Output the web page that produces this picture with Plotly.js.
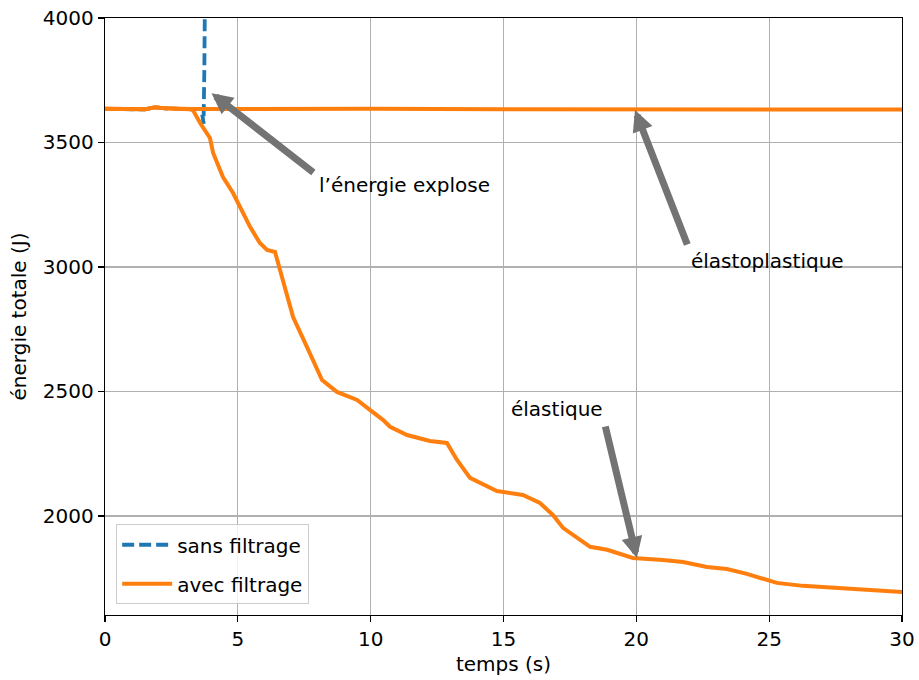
<!DOCTYPE html>
<html>
<head>
<meta charset="utf-8">
<script src="https://cdn.plot.ly/plotly-3.0.1.min.js"></script>
<style>html,body{margin:0;padding:0;background:#fff;}#chart{width:919px;height:680px;}</style>
</head>
<body>
<div id="chart"></div>
<script>
// Data
const sansT = [0, 0.94, 1.5, 1.88, 2.26, 3.2, 3.62, 3.68, 3.71, 3.74, 3.77, 3.80];
const sansE = [3635, 3635, 3633, 3641, 3637, 3633, 3634, 3600, 3575, 3800, 4100, 4600];

const elastoT = [0, 0.94, 1.5, 1.88, 2.26, 3.2, 5, 10, 15, 20, 25, 30];
const elastoE = [3635, 3635, 3633, 3641, 3637, 3634, 3635, 3635, 3633, 3632, 3632, 3632];

const elastT = [0, 0.94, 1.5, 1.88, 2.26, 3.2, 3.31, 3.58, 3.69, 3.95, 4.07, 4.44, 4.82, 5.08, 5.46, 5.83, 6.10, 6.40, 6.70, 7.08, 7.60, 8.17, 8.73, 9.49, 9.97, 10.46, 10.73, 11.37, 12.23, 12.87, 13.25, 13.74, 14.75, 15.73, 16.37, 16.86, 17.24, 18.26, 18.90, 19.87, 21.0, 21.76, 22.66, 23.41, 24.16, 25.03, 25.29, 26.27, 28.04, 29.92, 30];
const elastE = [3635, 3635, 3633, 3641, 3637, 3633, 3630, 3578, 3562, 3518, 3458, 3361, 3297, 3241, 3161, 3096, 3068, 3060, 2948, 2799, 2679, 2546, 2498, 2466, 2426, 2386, 2358, 2325, 2301, 2293, 2225, 2153, 2100, 2084, 2052, 2004, 1952, 1876, 1864, 1831, 1823, 1815, 1795, 1787, 1767, 1739, 1731, 1719, 1707, 1695, 1694];

const xTicks = [0, 5, 10, 15, 20, 25, 30];
const yTicks = [2000, 2500, 3000, 3500, 4000];

const labels = {
  sans: 'sans filtrage',
  avec: 'avec filtrage',
  xTitle: 'temps (s)',
  yTitle: 'énergie totale (J)',
  explose: 'l’énergie explose',
  elastoplastique: 'élastoplastique',
  elastique: 'élastique'
};
// annotation anchor points: [text, textX, textY, tailX, tailY, tipX, tipY]
const notes = [
  [labels.explose, 7.98, 3330, 7.9, 3375, 4.01, 3698],
  [labels.elastoplastique, 21.98, 3024, 21.94, 3084, 19.95, 3630],
  [labels.elastique, 15.2, 2428, 18.82, 2365, 20.02, 1831]
];

const FONT = 'DejaVu Sans, sans-serif';
const FS = 20;
const orange = '#ff7f0e';
const blue = '#1f77b4';
const gray = '#737373';

const traces = [
  {x: sansT, y: sansE, mode: 'lines', name: labels.sans,
   line: {color: blue, width: 3.8, dash: '12px,5px'}},
  {x: elastoT, y: elastoE, mode: 'lines', name: labels.avec, legendgroup: 'avec',
   line: {color: orange, width: 4}},
  {x: elastT, y: elastE, mode: 'lines', name: labels.avec, legendgroup: 'avec', showlegend: false,
   line: {color: orange, width: 4}}
];

const annotations = [];
notes.forEach(n => {
  annotations.push({x: n[5], y: n[6], ax: n[3], ay: n[4], xref: 'x', yref: 'y', axref: 'x', ayref: 'y',
    text: '', showarrow: true, arrowhead: 2, arrowsize: 0.6, arrowwidth: 7, arrowcolor: gray, standoff: 0});
  annotations.push({x: n[1], y: n[2], xref: 'x', yref: 'y', text: n[0], showarrow: false,
    xanchor: 'left', yanchor: 'middle', font: {family: FONT, size: FS, color: '#000'}});
});

const axisCommon = {
  showline: true, linecolor: '#000', linewidth: 1.3, mirror: true,
  ticks: 'outside', ticklen: 6, tickwidth: 1.3, tickcolor: '#000',
  showgrid: true, gridcolor: '#b0b0b0', gridwidth: 1.2, zeroline: false,
  tickfont: {family: FONT, size: FS, color: '#000'}
};

const layout = {
  width: 919, height: 680,
  margin: {l: 105, r: 17, t: 18, b: 65},
  paper_bgcolor: '#fff', plot_bgcolor: '#fff',
  font: {family: FONT, size: FS, color: '#000'},
  xaxis: Object.assign({}, axisCommon, {range: [0, 30], tickvals: xTicks, ticktext: xTicks.map(String),
    title: {text: labels.xTitle, font: {family: FONT, size: FS, color: '#000'}, standoff: 6}}),
  yaxis: Object.assign({}, axisCommon, {range: [1602, 4000], tickvals: yTicks, ticktext: yTicks.map(String),
    title: {text: labels.yTitle, font: {family: FONT, size: FS, color: '#000'}, standoff: 10}}),
  showlegend: true,
  legend: {x: 0.014, y: 0.018, xanchor: 'left', yanchor: 'bottom', itemwidth: 50,
    bgcolor: 'rgba(255,255,255,0.8)', bordercolor: '#cccccc', borderwidth: 1,
    font: {family: FONT, size: FS, color: '#000'}},
  annotations: annotations
};

Plotly.newPlot('chart', traces, layout, {staticPlot: true, displayModeBar: false});
</script>
</body>
</html>
